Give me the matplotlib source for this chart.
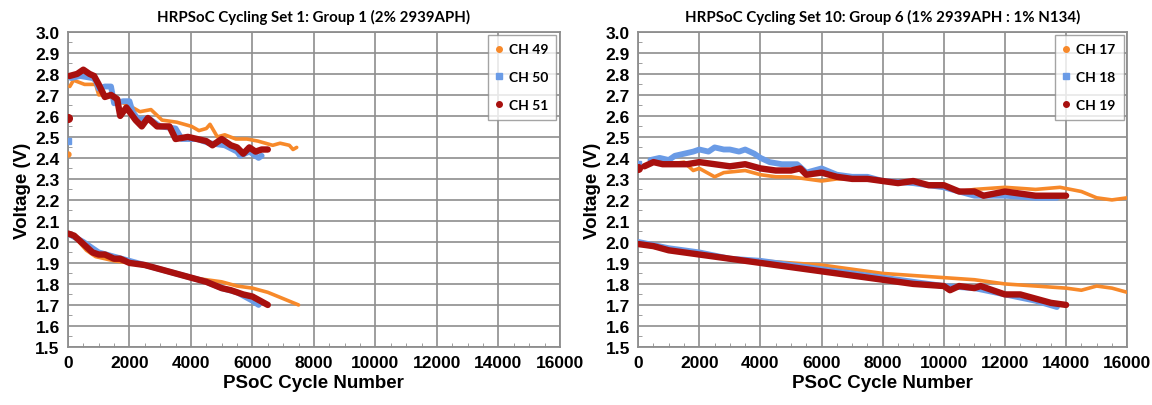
import matplotlib.pyplot as plt
from matplotlib.ticker import MultipleLocator

# end-of-charge (top) and end-of-discharge (bottom) voltages per channel;
# the first top value is the initial charge reading at cycle 0

# Set 1 / Group 1
ch49_top_cycle = [0, 60, 180, 540, 900, 1000, 1260, 1500, 1980, 2340, 2700, 3060,
                  3540, 3780, 4020, 4260, 4500, 4620, 4860, 5100, 5460, 5820, 6180,
                  6420, 6660, 6900, 7200, 7320, 7440]
ch49_top_volt = [2.42, 2.74, 2.77, 2.75, 2.75, 2.70, 2.70, 2.68, 2.65, 2.62, 2.63, 2.58,
                 2.57, 2.56, 2.55, 2.53, 2.54, 2.56, 2.50, 2.51, 2.49, 2.49, 2.48,
                 2.47, 2.46, 2.47, 2.46, 2.44, 2.45]
ch50_top_cycle = [0, 100, 400, 800, 900, 1000, 1200, 1400, 1500, 1800, 2000, 2100,
                  2300, 2600, 3000, 3500, 3700, 4200, 4600, 5100, 5500, 5600, 5900,
                  6200, 6300]
ch50_top_volt = [2.48, 2.78, 2.79, 2.78, 2.77, 2.73, 2.74, 2.74, 2.66, 2.67, 2.67, 2.62,
                 2.58, 2.59, 2.55, 2.54, 2.49, 2.49, 2.47, 2.46, 2.43, 2.41, 2.43,
                 2.40, 2.41]
ch51_top_cycle = [0, 50, 300, 500, 700, 850, 1000, 1200, 1400, 1600, 1700, 1900,
                  2200, 2400, 2600, 2900, 3300, 3500, 3900, 4200, 4500, 4700, 5000,
                  5300, 5500, 5700, 5900, 6100, 6300, 6500]
ch51_top_volt = [2.59, 2.79, 2.80, 2.82, 2.80, 2.79, 2.75, 2.69, 2.70, 2.68, 2.60, 2.64,
                 2.58, 2.55, 2.59, 2.55, 2.55, 2.49, 2.50, 2.49, 2.48, 2.46, 2.49,
                 2.46, 2.45, 2.42, 2.45, 2.43, 2.44, 2.44]

ch49_bot_cycle = [0, 300, 600, 900, 1500, 2000, 3000, 4000, 4500, 5000, 5500, 6000,
                  6500, 7000, 7500]
ch49_bot_volt = [2.04, 2.01, 1.96, 1.93, 1.91, 1.90, 1.87, 1.83, 1.82, 1.81, 1.79, 1.78,
                 1.76, 1.73, 1.70]
ch50_bot_cycle = [0, 500, 1000, 1500, 2000, 3000, 4000, 4500, 5000, 5500, 6000, 6200]
ch50_bot_volt = [2.04, 2.00, 1.95, 1.93, 1.91, 1.87, 1.83, 1.81, 1.78, 1.76, 1.72, 1.70]
ch51_bot_cycle = [0, 200, 500, 800, 1000, 1200, 1500, 1700, 2000, 2500, 3000, 3500,
                  4000, 4500, 5000, 5300, 5700, 6000, 6500]
ch51_bot_volt = [2.04, 2.03, 1.99, 1.95, 1.94, 1.94, 1.92, 1.92, 1.90, 1.89, 1.87, 1.85,
                 1.83, 1.81, 1.78, 1.77, 1.75, 1.74, 1.70]

# Set 10 / Group 6
ch17_top_cycle = [0, 500, 1000, 1500, 1800, 2000, 2500, 2800, 3500, 4000, 4500, 5000,
                  5500, 6000, 6500, 7000, 8000, 9000, 10000, 10500, 11000, 12000,
                  13000, 13800, 14500, 15000, 15500, 16000]
ch17_top_volt = [2.36, 2.38, 2.37, 2.38, 2.34, 2.35, 2.31, 2.33, 2.34, 2.32, 2.31, 2.31,
                 2.30, 2.29, 2.30, 2.30, 2.29, 2.28, 2.26, 2.24, 2.25, 2.26,
                 2.25, 2.26, 2.24, 2.21, 2.20, 2.21]
ch18_top_cycle = [0, 400, 700, 1000, 1200, 1500, 1800, 2000, 2300, 2500, 2800, 3000,
                  3300, 3500, 3800, 4000, 4300, 4700, 5200, 5500, 6000, 6500, 7000,
                  7500, 8000, 9000, 10000, 10500, 11000, 12000, 13000, 13700]
ch18_top_volt = [2.37, 2.39, 2.40, 2.39, 2.41, 2.42, 2.43, 2.44, 2.43, 2.45, 2.44, 2.44,
                 2.43, 2.44, 2.42, 2.40, 2.38, 2.37, 2.37, 2.33, 2.35, 2.32, 2.31,
                 2.31, 2.29, 2.28, 2.26, 2.24, 2.22, 2.22, 2.21, 2.21]
ch19_top_cycle = [0, 200, 500, 800, 1200, 1600, 2000, 2500, 3000, 3500, 4000, 4500,
                  5000, 5300, 5500, 6000, 6500, 7000, 7500, 8000, 8500, 9000, 9500,
                  10000, 10500, 11000, 11300, 12000, 12500, 13000, 13500, 14000]
ch19_top_volt = [2.35, 2.36, 2.38, 2.37, 2.37, 2.37, 2.38, 2.37, 2.36, 2.37, 2.35, 2.34,
                 2.34, 2.35, 2.32, 2.33, 2.31, 2.30, 2.30, 2.29, 2.28, 2.29, 2.27,
                 2.27, 2.24, 2.24, 2.22, 2.24, 2.23, 2.22, 2.22, 2.22]

ch17_bot_cycle = [0, 1000, 2000, 3000, 4000, 5000, 6000, 7000, 8000, 9000, 10000,
                  11000, 12000, 13000, 14000, 14500, 15000, 15500, 16000]
ch17_bot_volt = [1.99, 1.96, 1.94, 1.92, 1.91, 1.90, 1.89, 1.87, 1.85, 1.84, 1.83,
                 1.82, 1.80, 1.79, 1.78, 1.77, 1.79, 1.78, 1.76]
ch18_bot_cycle = [0, 1000, 2000, 3000, 4000, 5000, 6000, 7000, 8000, 9000, 10000,
                  11000, 12000, 13000, 13700]
ch18_bot_volt = [2.00, 1.97, 1.95, 1.92, 1.91, 1.89, 1.87, 1.85, 1.83, 1.81, 1.79,
                 1.78, 1.75, 1.72, 1.69]
ch19_bot_cycle = [0, 500, 1000, 2000, 3000, 4000, 5000, 6000, 7000, 8000, 9000, 10000,
                  10200, 10500, 11000, 11200, 12000, 12500, 13000, 13500, 14000]
ch19_bot_volt = [1.99, 1.98, 1.96, 1.94, 1.92, 1.90, 1.88, 1.86, 1.84, 1.82, 1.80, 1.79,
                 1.77, 1.79, 1.78, 1.79, 1.75, 1.75, 1.73, 1.71, 1.70]

orange = '#f7892a'
blue = '#6a9be6'
red = '#a8100e'
grid_col = '#8e8e8e'

# marker, marker size, trace width per colour slot
styles = [(orange, 'o', 3.5, 2.6), (blue, 's', 5.0, 4.2), (red, 'o', 5.5, 4.6)]

panels = [
    {
        'title': 'HRPSoC Cycling Set 1: Group 1 (2% 2939APH)',
        'labels': ['CH 49', 'CH 50', 'CH 51'],
        'top': [(ch49_top_cycle, ch49_top_volt), (ch50_top_cycle, ch50_top_volt),
                (ch51_top_cycle, ch51_top_volt)],
        'bot': [(ch49_bot_cycle, ch49_bot_volt), (ch50_bot_cycle, ch50_bot_volt),
                (ch51_bot_cycle, ch51_bot_volt)],
        'rect': [0.059, 0.143, 0.427, 0.776],
    },
    {
        'title': 'HRPSoC Cycling Set 10: Group 6 (1% 2939APH : 1% N134)',
        'labels': ['CH 17', 'CH 18', 'CH 19'],
        'top': [(ch17_top_cycle, ch17_top_volt), (ch18_top_cycle, ch18_top_volt),
                (ch19_top_cycle, ch19_top_volt)],
        'bot': [(ch17_bot_cycle, ch17_bot_volt), (ch18_bot_cycle, ch18_bot_volt),
                (ch19_bot_cycle, ch19_bot_volt)],
        'rect': [0.554, 0.143, 0.4245, 0.776],
    },
]

fig = plt.figure(figsize=(11.52, 4.06), dpi=100)

for p in panels:
    ax = fig.add_axes(p['rect'])
    handles = []
    for i, (col, mk, ms, lw) in enumerate(styles):
        top_c, top_v = p['top'][i]
        bot_c, bot_v = p['bot'][i]
        z = 3 + i
        # the cycle-0 charge reading sits apart from the rest of the trace
        ax.plot(top_c[:1], top_v[:1], ls='none', marker=mk, ms=ms, color=col, zorder=z)
        ax.plot(top_c[1:], top_v[1:], color=col, lw=lw, solid_joinstyle='round',
                solid_capstyle='round', zorder=z)
        ax.plot(bot_c, bot_v, color=col, lw=lw, solid_joinstyle='round',
                solid_capstyle='round', zorder=z)
        h, = ax.plot([], [], ls='none', marker=mk, ms=4, color=col, label=p['labels'][i])
        handles.append(h)

    ax.set_xlim(0, 16000)
    ax.set_ylim(1.5, 3.0)
    ax.xaxis.set_major_locator(MultipleLocator(2000))
    ax.xaxis.set_minor_locator(MultipleLocator(500))
    ax.yaxis.set_major_locator(MultipleLocator(0.1))
    ax.yaxis.set_minor_locator(MultipleLocator(0.05))
    ax.yaxis.set_major_formatter(lambda v, pos: f'{v:.1f}')
    ax.grid(True, which='major', color=grid_col, lw=1.2)
    ax.set_axisbelow(True)
    for s in ax.spines.values():
        s.set_color(grid_col)
        s.set_linewidth(1.3)
    ax.tick_params(which='major', length=0, pad=6, labelsize=12.5)
    ax.tick_params(which='minor', direction='in', length=3, color=grid_col)
    for lab in ax.get_xticklabels() + ax.get_yticklabels():
        lab.set_fontweight('bold')
        lab.set_family('Liberation Sans')

    ax.set_xlabel('PSoC Cycle Number', fontsize=13.5, fontweight='bold',
                  family='Liberation Sans', labelpad=3)
    ax.set_ylabel('Voltage (V)', fontsize=13.5, fontweight='bold',
                  family='Liberation Sans', labelpad=3)
    ax.set_title(p['title'], fontsize=10.8, fontweight='bold', family='Lato', pad=8)

    leg = ax.legend(handles=handles, loc='upper right', frameon=True, fancybox=False,
                    handlelength=0.4, handletextpad=0.5, labelspacing=1.15,
                    borderpad=0.6, borderaxespad=0,
                    prop={'family': 'Lato', 'weight': 'bold', 'size': 10},
                    bbox_to_anchor=(0.993, 0.99))
    leg.get_frame().set_edgecolor(grid_col)
    leg.get_frame().set_linewidth(1.0)

fig.savefig('out.png', dpi=100)
